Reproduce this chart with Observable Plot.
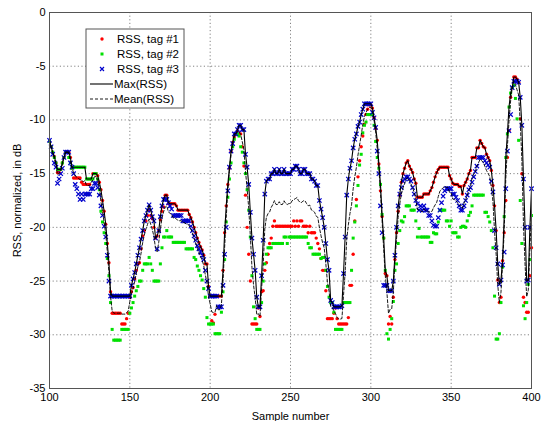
<!DOCTYPE html>
<html>
<head>
<meta charset="utf-8">
<script src="https://cdn.jsdelivr.net/npm/d3@7"></script>
<script src="https://cdn.jsdelivr.net/npm/@observablehq/plot@0.6"></script>
<style>
  html, body { margin: 0; padding: 0; background: #fff; }
  #chart { width: 544px; height: 421px; }
</style>
</head>
<body>
<div id="chart"></div>
<script>
const firstSample = 100;
const xTicks = [100, 150, 200, 250, 300, 350, 400];
const yTicks = [0, -5, -10, -15, -20, -25, -30, -35];
const xLabel = "Sample number";
const yLabel = "RSS, normalized, in dB";
const legendLabels = ["RSS, tag #1", "RSS, tag #2", "RSS, tag #3", "Max(RSS)", "Mean(RSS)"];

// RSS of tag #1 (red dots), samples 100..400
const tag1 = [
-12.0,-12.5,-13.0,-13.4,-14.0,-14.9,-14.9,-14.6,-14.0,-13.5,
-13.0,-13.0,-13.0,-13.5,-14.5,-15.4,-15.4,-15.4,-15.4,-15.4,
-15.8,-16.0,-16.0,-16.0,-16.0,-16.0,-15.5,-15.0,-15.0,-15.0,
-15.2,-15.8,-16.5,-17.5,-18.5,-19.7,-21.5,-23.3,-26.0,-28.0,
-28.0,-28.0,-28.0,-28.0,-28.0,-29.0,-29.0,-29.0,-28.5,-28.0,
-26.5,-26.0,-25.6,-24.8,-24.0,-23.4,-23.3,-22.0,-20.8,-20.3,
-19.4,-18.9,-18.4,-18.9,-19.2,-20.0,-21.0,-20.8,-20.3,-19.3,
-18.5,-18.1,-17.0,-17.0,-17.8,-17.8,-17.8,-17.8,-17.8,-18.0,
-18.4,-18.4,-18.4,-18.4,-18.4,-18.4,-18.4,-18.8,-19.1,-19.5,
-20.0,-20.5,-21.0,-21.4,-21.8,-22.1,-22.6,-23.4,-23.4,-25.5,
-26.4,-28.7,-28.9,-28.1,-26.4,-26.4,-26.4,-26.4,-24.0,-20.5,
-18.0,-16.0,-14.5,-12.9,-12.1,-11.6,-11.3,-11.0,-11.3,-11.3,
-12.5,-14.3,-17.0,-20.0,-22.5,-25.0,-29.0,-29.0,-29.0,-29.0,
-27.5,-28.3,-26.0,-25.9,-24.0,-23.3,-22.5,-21.5,-21.0,-19.9,
-19.4,-19.9,-19.9,-19.9,-19.9,-19.9,-19.9,-19.9,-19.9,-19.9,
-19.9,-19.9,-19.4,-19.9,-19.4,-19.9,-19.4,-19.4,-19.9,-19.9,
-19.9,-20.5,-19.9,-20.5,-20.5,-20.5,-21.0,-21.5,-22.0,-22.9,
-24.0,-24.0,-25.9,-28.5,-28.5,-28.5,-28.5,-28.0,-27.5,-28.5,
-29.0,-29.0,-29.0,-29.0,-29.0,-29.0,-28.4,-25.4,-25.4,-22.5,
-19.4,-17.4,-15.3,-13.8,-12.5,-11.5,-10.4,-9.5,-9.0,-8.6,
-8.6,-8.9,-9.8,-10.8,-11.9,-14.1,-16.6,-19.0,-21.0,-24.3,
-24.5,-29.0,-28.3,-29.0,-26.5,-23.0,-20.5,-18.5,-17.0,-15.8,
-15.0,-14.5,-14.0,-13.8,-14.3,-14.6,-14.9,-15.5,-15.9,-17.2,
-17.2,-17.2,-17.2,-16.9,-16.9,-16.9,-16.9,-16.6,-16.3,-15.8,
-15.3,-14.9,-14.6,-14.4,-14.4,-14.4,-14.4,-14.4,-14.4,-15.2,
-15.5,-15.9,-16.0,-16.0,-16.0,-16.2,-16.2,-16.9,-16.1,-15.8,
-15.5,-15.0,-14.7,-13.5,-13.5,-13.5,-12.6,-12.6,-11.9,-12.2,
-12.5,-12.6,-13.2,-13.5,-13.8,-14.7,-16.1,-18.0,-20.3,-24.9,
-27.0,-26.5,-23.1,-20.5,-17.5,-13.5,-11.0,-7.9,-7.0,-6.0,
-6.0,-6.2,-6.5,-9.9,-15.0,-26.5,-27.0,-27.9,-27.9,-24.5,
-21.9
];

// RSS of tag #2 (green squares)
const tag2 = [
-12.0,-12.5,-13.0,-13.5,-14.0,-14.6,-14.6,-14.6,-14.0,-13.5,
-13.0,-13.0,-13.5,-14.0,-14.5,-14.4,-14.4,-14.4,-14.4,-14.4,
-14.4,-14.4,-14.4,-15.5,-15.5,-15.5,-15.5,-15.5,-15.0,-15.0,
-15.5,-16.5,-18.5,-19.5,-20.5,-21.5,-22.9,-24.5,-27.0,-29.5,
-30.5,-30.5,-30.5,-30.5,-30.5,-29.5,-29.5,-29.5,-29.5,-29.5,
-28.0,-27.5,-27.0,-26.4,-25.9,-25.5,-25.0,-25.0,-24.0,-23.4,
-23.4,-23.4,-22.8,-23.4,-24.0,-25.0,-25.0,-25.0,-25.0,-23.4,
-21.9,-20.9,-20.9,-20.3,-20.9,-20.9,-20.9,-21.4,-21.4,-21.4,
-21.4,-21.4,-21.4,-21.4,-21.4,-22.0,-22.0,-22.0,-22.0,-22.0,
-22.8,-23.0,-23.6,-24.0,-24.5,-24.9,-25.7,-26.5,-28.4,-29.0,
-29.0,-29.0,-29.0,-29.9,-29.9,-29.9,-29.9,-27.9,-26.0,-23.0,
-19.5,-17.2,-15.5,-14.0,-12.5,-11.8,-11.3,-11.3,-11.5,-12.5,
-13.0,-14.0,-15.0,-16.5,-18.4,-20.9,-24.5,-27.4,-28.5,-29.5,
-29.5,-29.5,-27.0,-25.0,-23.4,-22.5,-21.9,-21.9,-21.9,-21.5,
-21.5,-21.5,-21.5,-21.5,-21.5,-21.5,-20.9,-20.9,-21.5,-20.9,
-20.9,-20.9,-20.9,-20.9,-20.9,-20.9,-20.9,-20.9,-20.9,-20.9,
-20.9,-21.5,-21.9,-21.9,-22.5,-22.5,-22.5,-22.5,-22.5,-22.9,
-22.8,-22.8,-24.0,-25.5,-26.5,-27.0,-27.0,-27.9,-29.5,-29.5,
-29.5,-29.5,-29.5,-27.0,-27.0,-27.0,-27.0,-27.0,-24.0,-21.0,
-19.5,-18.0,-16.1,-14.2,-13.2,-11.2,-10.5,-10.2,-9.5,-9.5,
-9.5,-9.5,-10.5,-12.0,-13.5,-14.5,-16.0,-18.8,-21.0,-24.0,
-29.9,-30.4,-29.5,-28.5,-26.9,-24.0,-23.4,-21.5,-20.3,-19.4,
-19.5,-19.0,-18.0,-18.0,-18.0,-18.4,-18.4,-18.4,-19.4,-20.9,
-20.1,-20.9,-20.9,-20.9,-20.9,-20.9,-20.9,-21.4,-21.4,-20.5,
-20.6,-20.6,-19.5,-18.4,-18.4,-18.4,-18.4,-19.4,-19.4,-19.9,
-19.4,-20.5,-20.5,-20.5,-20.9,-20.9,-20.0,-19.9,-19.9,-20.0,
-19.4,-18.9,-18.6,-18.0,-17.0,-17.0,-17.0,-17.0,-17.0,-17.0,
-17.0,-18.6,-18.6,-19.0,-19.5,-20.3,-21.9,-26.4,-30.4,-30.4,
-29.9,-27.0,-23.7,-19.0,-13.5,-11.3,-8.8,-7.5,-7.0,-6.8,
-8.0,-9.9,-11.9,-17.5,-21.5,-27.3,-28.5,-27.0,-25.3,-23.0,
-18.9
];

// RSS of tag #3 (blue crosses)
const tag3 = [
-11.9,-12.5,-13.2,-14.0,-14.4,-15.9,-15.5,-15.0,-14.5,-13.5,
-13.0,-13.0,-13.0,-14.0,-14.4,-15.0,-16.0,-16.4,-16.9,-17.4,
-16.9,-17.4,-16.9,-16.9,-16.9,-16.9,-16.4,-16.4,-15.9,-15.9,
-16.3,-17.0,-18.0,-18.9,-19.9,-20.9,-22.6,-25.0,-26.4,-26.4,
-26.4,-26.4,-26.4,-26.4,-26.4,-26.4,-26.4,-26.4,-26.4,-26.4,
-26.4,-25.4,-24.8,-24.2,-23.4,-22.6,-21.9,-21.1,-20.3,-19.4,
-18.9,-18.4,-17.9,-18.4,-19.0,-19.4,-21.0,-22.0,-20.3,-19.0,
-18.0,-17.4,-17.4,-17.4,-17.7,-18.0,-18.3,-18.9,-18.9,-18.9,
-18.9,-18.9,-18.9,-19.4,-19.4,-19.4,-19.4,-19.4,-19.9,-20.3,
-20.8,-21.2,-21.7,-22.0,-22.3,-22.6,-23.0,-24.0,-25.0,-25.7,
-26.4,-26.4,-26.4,-26.4,-26.4,-27.4,-27.4,-27.4,-25.4,-22.5,
-20.0,-16.6,-14.4,-12.9,-12.2,-11.3,-11.3,-10.9,-10.5,-10.5,
-10.9,-10.9,-13.2,-14.4,-16.0,-18.6,-21.0,-22.5,-24.0,-26.5,
-27.4,-27.4,-24.5,-21.2,-16.9,-15.7,-15.5,-15.5,-15.0,-15.0,
-14.6,-15.0,-15.0,-14.6,-15.0,-15.0,-14.6,-15.0,-15.0,-15.0,
-15.0,-14.6,-14.6,-14.3,-14.3,-14.6,-15.0,-15.0,-14.6,-14.6,
-15.0,-15.0,-15.0,-15.5,-15.5,-15.7,-16.1,-16.1,-17.5,-18.3,
-19.1,-20.0,-21.5,-23.0,-24.0,-26.8,-27.0,-27.4,-27.4,-27.4,
-27.4,-27.4,-27.3,-24.3,-20.9,-17.0,-15.5,-14.5,-13.8,-12.6,
-11.8,-11.3,-10.6,-10.2,-9.5,-9.0,-8.5,-8.5,-8.5,-8.5,
-8.5,-9.3,-9.8,-10.7,-12.9,-15.0,-18.0,-20.5,-25.4,-25.4,
-25.4,-25.9,-25.9,-25.9,-25.0,-22.6,-20.0,-18.0,-16.9,-16.3,
-15.7,-15.5,-15.3,-15.3,-15.5,-15.7,-16.3,-16.9,-17.5,-17.8,
-18.4,-18.0,-18.4,-18.0,-18.4,-18.4,-18.9,-18.9,-19.4,-19.8,
-19.9,-19.9,-19.1,-18.4,-17.7,-17.1,-16.6,-16.4,-16.4,-16.4,
-16.4,-16.9,-16.9,-17.2,-17.5,-18.0,-18.4,-18.4,-18.0,-17.5,
-17.0,-16.5,-16.3,-15.8,-15.3,-14.8,-14.3,-13.5,-13.5,-13.5,
-13.5,-13.8,-14.0,-14.2,-14.4,-15.7,-16.7,-20.3,-21.9,-23.4,
-25.3,-24.9,-23.5,-22.3,-16.4,-12.9,-11.0,-9.5,-7.0,-6.4,
-6.4,-6.4,-6.5,-7.9,-10.5,-15.5,-20.0,-25.0,-24.9,-20.0,
-16.4
];

const samples = tag1.map((_, i) => firstSample + i);
const rows = samples.map((s, i) => ({
  sample: s,
  t1: tag1[i], t2: tag2[i], t3: tag3[i],
  max: Math.max(tag1[i], tag2[i], tag3[i]),
  mean: 10 * Math.log10((10 ** (tag1[i] / 10) + 10 ** (tag2[i] / 10) + 10 ** (tag3[i] / 10)) / 3)
}));

const RED = "#ff0000", GREEN = "#00e000", BLUE = "#0000cc";
const gridStyle = {stroke: "#000", strokeOpacity: 0.55, strokeDasharray: "1.2,2.4", strokeWidth: 0.9};

const svg = Plot.plot({
  width: 544,
  height: 421,
  marginLeft: 49,
  marginRight: 13,
  marginTop: 12,
  marginBottom: 33,
  style: {fontFamily: "'Liberation Sans', Arial, sans-serif", fontSize: "11px", background: "#fff", color: "#000"},
  x: {domain: [100, 400]},
  y: {domain: [-35, 0]},
  marks: [
    Plot.gridX(xTicks, gridStyle),
    Plot.gridY(yTicks, gridStyle),
    Plot.dot(rows, {x: "sample", y: "t1", r: 1.7, fill: RED, stroke: null}),
    Plot.dot(rows, {x: "sample", y: "t2", symbol: "square", r: 1.7, fill: GREEN, stroke: null}),
    Plot.dot(rows, {x: "sample", y: "t3", symbol: "times", r: 2.1, stroke: BLUE, strokeWidth: 1.2}),
    Plot.line(rows, {x: "sample", y: "max", stroke: "#000", strokeWidth: 1.1}),
    Plot.line(rows, {x: "sample", y: "mean", stroke: "#000", strokeWidth: 0.9, strokeDasharray: "3,2"}),
    Plot.frame({stroke: "#555"}),
    Plot.axisX(xTicks, {tickSize: 0, tickPadding: 5, tickFormat: d => String(d), label: xLabel, labelAnchor: "center", labelArrow: "none", labelOffset: 31}),
    Plot.axisY(yTicks, {tickSize: 0, tickPadding: 4, tickFormat: d => String(d), label: yLabel, labelAnchor: "center", labelArrow: "none", labelOffset: 36})
  ]
});
document.getElementById("chart").appendChild(svg);

// legend box (inside the axes, top-left)
const lg = d3.select(svg).append("g")
  .attr("font-family", "'Liberation Sans', Arial, sans-serif")
  .attr("font-size", "11.5px")
  .attr("text-anchor", "start");
lg.append("rect").attr("x", 86).attr("y", 29).attr("width", 98).attr("height", 79)
  .attr("fill", "#fff").attr("stroke", "#555").attr("stroke-width", 1);
const rowY = [39, 54, 69, 84, 99];
legendLabels.forEach((lab, i) => {
  const y = rowY[i];
  if (i === 0) lg.append("circle").attr("cx", 102).attr("cy", y).attr("r", 1.7).attr("fill", RED);
  if (i === 1) lg.append("rect").attr("x", 100.5).attr("y", y - 1.5).attr("width", 3).attr("height", 3).attr("fill", GREEN);
  if (i === 2) lg.append("path").attr("d", `M${100},${y - 2}L${104},${y + 2}M${104},${y - 2}L${100},${y + 2}`).attr("stroke", BLUE).attr("stroke-width", 1.2);
  if (i === 3) lg.append("line").attr("x1", 90).attr("x2", 113).attr("y1", y).attr("y2", y).attr("stroke", "#000").attr("stroke-width", 1.1);
  if (i === 4) lg.append("line").attr("x1", 90).attr("x2", 113).attr("y1", y).attr("y2", y).attr("stroke", "#000").attr("stroke-width", 0.9).attr("stroke-dasharray", "3,2");
  lg.append("text").attr("x", i < 3 ? 117 : 114).attr("y", y).attr("dy", "0.35em").attr("fill", "#000").attr("text-anchor", "start").text(lab);
});
</script>
</body>
</html>
